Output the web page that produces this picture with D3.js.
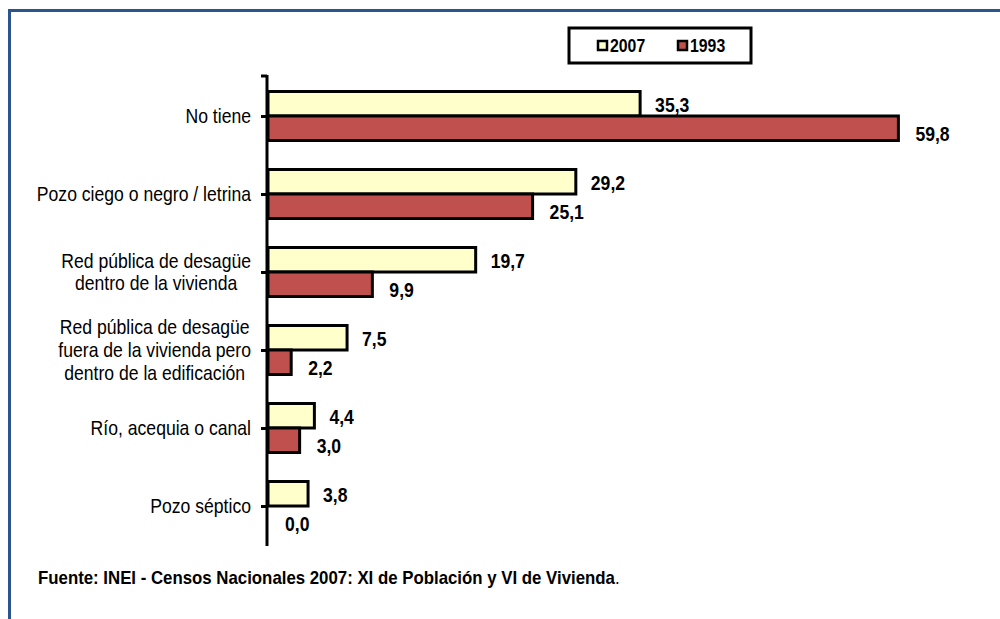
<!DOCTYPE html>
<html>
<head>
<meta charset="utf-8">
<script src="https://cdn.jsdelivr.net/npm/d3@7"></script>
<style>
  html, body { margin: 0; padding: 0; background: #fff; }
  svg { display: block; }
  text { font-family: 'Liberation Sans', Arial, sans-serif; }
</style>
</head>
<body>
<script>
const categories = [
  "No tiene",
  "Pozo ciego o negro / letrina",
  "Red pública de desagüe\ndentro de la vivienda",
  "Red pública de desagüe\nfuera de la vivienda pero\ndentro de la edificación",
  "Río, acequia o canal",
  "Pozo séptico"
];
const seriesNames = ["2007", "1993"];
const values2007 = [35.3, 29.2, 19.7, 7.5, 4.4, 3.8];
const values1993 = [59.8, 25.1, 9.9, 2.2, 3.0, 0.0];
const seriesColors = ["#FFFFCC", "#C0504D"];
const sourceText = "Fuente: INEI - Censos Nacionales 2007: XI de Población y VI de Vivienda";

const W = 1000, H = 619;
const SX = 0.88; // narrow-font emulation
const svg = d3.select("body").append("svg").attr("width", W).attr("height", H);

// frame
svg.append("rect").attr("x", 9.5).attr("y", 10.5).attr("width", 1000).attr("height", 700)
  .attr("fill", "none").attr("stroke", "#2A5590").attr("stroke-width", 3);

const x = d3.scaleLinear().domain([0, 60]).range([268, 900.5]);
const y = d3.scalePoint().domain(categories).range([116, 506]);
const sub = d3.scaleBand().domain(seriesNames).range([-24.5, 24.5]);
const fmt = v => d3.format(".1f")(v).replace(".", ",");

function narrow(parent, px, py, sx) {
  return parent.append("g").attr("transform", `translate(${px},${py}) scale(${sx},1)`)
    .append("text").attr("x", 0).attr("y", 0);
}

const rows = categories.map((c, i) => ({ cat: c, vals: [values2007[i], values1993[i]] }));

const g = svg.append("g");
rows.forEach(r => {
  r.vals.forEach((v, k) => {
    const s = seriesNames[k];
    g.append("rect")
      .attr("x", x(0))
      .attr("y", y(r.cat) + sub(s))
      .attr("width", x(v) - x(0))
      .attr("height", sub.bandwidth())
      .attr("fill", seriesColors[k])
      .attr("stroke", "#000")
      .attr("stroke-width", 3);
  });
});

// value labels
rows.forEach(r => {
  r.vals.forEach((v, k) => {
    const s = seriesNames[k];
    narrow(g, x(v) + (k === 0 ? 15 : 17), y(r.cat) + sub(s) + sub.bandwidth() / 2 + (k === 0 ? 1 : 6), SX)
      .attr("dy", "0.35em")
      .attr("font-size", 20)
      .attr("font-weight", "bold")
      .attr("fill", "#000")
      .text(fmt(v));
  });
});

// axis
const axisG = svg.append("g").attr("transform", `translate(${x(0) - 1},0)`);
const axis = d3.axisLeft(y).tickSize(6).tickFormat("");
axisG.call(axis);
axisG.select(".domain").remove();
axisG.selectAll(".tick line").attr("stroke", "#000").attr("stroke-width", 3);
axisG.append("line").attr("x1", 0).attr("x2", 0).attr("y1", 75).attr("y2", 546)
  .attr("stroke", "#000").attr("stroke-width", 3);
axisG.append("line").attr("x1", -6).attr("x2", 0).attr("y1", 76).attr("y2", 76)
  .attr("stroke", "#000").attr("stroke-width", 3);

// category labels
const labelRight = 251;
const lineH = 23;
categories.forEach(c => {
  const lines = c.split("\n");
  const n = lines.length;
  const t = narrow(svg, 0, y(c), SX).attr("font-size", 20).attr("fill", "#000").attr("text-anchor", "middle");
  lines.forEach((ln, j) => {
    t.append("tspan").attr("x", 0).attr("y", (j - (n - 1) / 2) * lineH).attr("dy", "0.35em").text(ln);
  });
  const maxW = d3.max(t.selectAll("tspan").nodes(), nd => nd.getComputedTextLength()) * SX;
  d3.select(t.node().parentNode).attr("transform", `translate(${labelRight - maxW / 2},${y(c)}) scale(${SX},1)`);
});

// legend
const leg = svg.append("g");
leg.append("rect").attr("x", 569).attr("y", 28).attr("width", 182).attr("height", 35)
  .attr("fill", "#fff").attr("stroke", "#000").attr("stroke-width", 3);
const legX = [598, 678];
seriesNames.forEach((s, k) => {
  leg.append("rect").attr("x", legX[k]).attr("y", 41).attr("width", 9).attr("height", 9)
    .attr("fill", seriesColors[k]).attr("stroke", "#000").attr("stroke-width", 2.5);
  narrow(leg, legX[k] + 12, 46, SX).attr("dy", "0.35em")
    .attr("font-size", 18).attr("font-weight", "bold").text(s);
});

// source
const src = narrow(svg, 38, 578, 1).attr("dy", "0.35em").attr("font-size", 18);
src.append("tspan").attr("font-weight", "bold").text(sourceText);
src.append("tspan").text(".");
const srcW = src.node().getComputedTextLength();
d3.select(src.node().parentNode).attr("transform", `translate(38,578) scale(${582 / srcW},1)`);
</script>
</body>
</html>
